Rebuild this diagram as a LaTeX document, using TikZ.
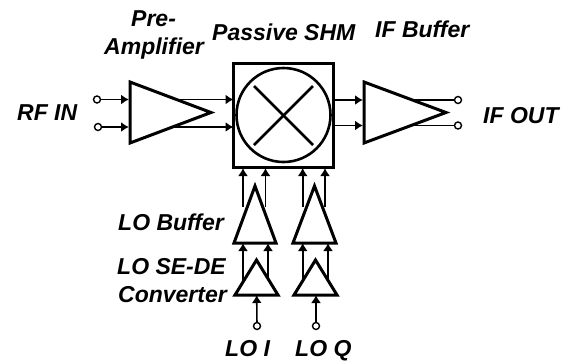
\documentclass[tikz,border=0pt]{standalone}
\usepackage{fontspec}
\setmainfont{Liberation Sans}
\usepackage{tikz}
\usetikzlibrary{arrows.meta,shapes.geometric}

\begin{document}
\begin{tikzpicture}[x=1pt,y=-1pt,line join=miter]
	\tikzset{
		amp/.style={isosceles triangle, isosceles triangle stretches, draw = black!100, fill=black!00, line width=3pt, inner sep=0pt, outer sep=0pt, anchor=lower side},
		term/.style={circle, draw = black!100, fill=black!00, line width=1.4pt, inner sep=0pt, minimum size=7pt},
		wire/.style={line width=1.6pt},
		pin/.style={line width=1.6pt, -{Latex[length=8pt,width=10pt]}},
		lbl/.style={font=\fontsize{23}{23}\selectfont\bfseries\itshape, inner sep=0pt, anchor=base west}
	}
	\useasboundingbox (0,0) rectangle (566,360);

	%---COORDINATES---
	\coordinate (1a) at (129,99.5);
	\coordinate (1b) at (129,127);
	\coordinate (1c) at (177,99.5);
	\coordinate (1d) at (173,127);
	\coordinate (2a) at (233.5,99.5);
	\coordinate (2b) at (233.5,127);
	\coordinate (2c) at (333,100);
	\coordinate (2d) at (333,125.5);
	\coordinate (3a) at (363,100);
	\coordinate (3b) at (363,125.5);
	\coordinate (3c) at (411,100);
	\coordinate (3d) at (411,125.5);
	\coordinate (m1) at (243,168);
	\coordinate (m2) at (265.5,168);
	\coordinate (m3) at (302.7,168);
	\coordinate (m4) at (325,168);
	\coordinate (b1) at (243,207);
	\coordinate (b2) at (265.5,207);
	\coordinate (b3) at (302.7,207);
	\coordinate (b4) at (325,207);
	\coordinate (b5) at (243,243);
	\coordinate (b6) at (268,243);
	\coordinate (b7) at (302.7,243);
	\coordinate (b8) at (328,243);
	\coordinate (s1) at (243,282);
	\coordinate (s2) at (268,282);
	\coordinate (s3) at (302.7,282);
	\coordinate (s4) at (328,282);
	\coordinate (s5) at (256.7,295);
	\coordinate (s6) at (316,295);
	\coordinate (x1) at (254,86);
	\coordinate (x2) at (313,145);
	\coordinate (x3) at (313,86);
	\coordinate (x4) at (254,145);

	%---NODES---
	\node[term] (rf1) at (97,99.5) {};
	\node[term] (rf2) at (98,127) {};
	\node[term] (if1) at (458,100) {};
	\node[term] (if2) at (458,125.5) {};
	\node[term] (loi) at (257,326) {};
	\node[term] (loq) at (316,326) {};

	%---EDGES---
	\draw[pin]   (rf1) -- (1a) ;
	\draw[pin]   (rf2) -- (1b) ;
	\draw[pin]   (1c) -- (2a) ;
	\draw[pin]   (1d) -- (2b) ;
	\draw[pin]   (2c) -- (3a) ;
	\draw[pin]   (2d) -- (3b) ;
	\draw[wire]   (3c) -- (if1) ;
	\draw[wire]   (3d) -- (if2) ;
	\draw[pin]   (b1) -- (m1) ;
	\draw[pin]   (b2) -- (m2) ;
	\draw[pin]   (b3) -- (m3) ;
	\draw[pin]   (b4) -- (m4) ;
	\draw[pin]   (s1) -- (b5) ;
	\draw[pin]   (s2) -- (b6) ;
	\draw[pin]   (s3) -- (b7) ;
	\draw[pin]   (s4) -- (b8) ;
	\draw[pin]   (loi) -- (s5) ;
	\draw[pin]   (loq) -- (s6) ;

	%---BLOCKS---
	\node[amp, minimum width=61pt, minimum height=81pt] (pre) at (130,112.5) {};
	\node[amp, minimum width=61pt, minimum height=82pt] (ifb) at (364,112.5) {};
	\node[amp, shape border rotate=90, minimum width=42pt, minimum height=57pt] (lo1) at (255,243) {};
	\node[amp, shape border rotate=90, minimum width=43pt, minimum height=57pt] (lo2) at (314.5,243) {};
	\node[amp, shape border rotate=90, minimum width=43pt, minimum height=35pt] (se1) at (256.5,295) {};
	\node[amp, shape border rotate=90, minimum width=43pt, minimum height=35pt] (se2) at (315.5,295) {};

	\node[draw = black!100, line width=3pt, minimum width=100pt, minimum height=104pt, inner sep=0pt] (shm) at (283.5,115.5) {};
	\node[circle, draw = black!100, line width=2.6pt, minimum size=94pt, inner sep=0pt] (mix) at (283.5,115) {};
	\draw[line width=2.6pt]   (x1) -- (x2) ;
	\draw[line width=2.6pt]   (x3) -- (x4) ;

	%---LABELS---
	\node[lbl] (t1) at (131,26) {Pre-};
	\node[lbl] (t1b) at (104,54) {Amplifier};
	\node[lbl] (t2) at (212,40) {Passive SHM};
	\node[lbl] (t3) at (375,37) {IF Buffer};
	\node[lbl] (t4) at (17,120) {RF IN};
	\node[lbl] (t5) at (483,123) {IF OUT};
	\node[lbl] (t6) at (118,230.5) {LO Buffer};
	\node[lbl] (t7) at (117,274) {LO SE-DE};
	\node[lbl] (t7b) at (118,302) {Converter};
	\node[lbl] (t8) at (225,356) {LO I};
	\node[lbl] (t9) at (295,356) {LO Q};

\end{tikzpicture}
\end{document}
